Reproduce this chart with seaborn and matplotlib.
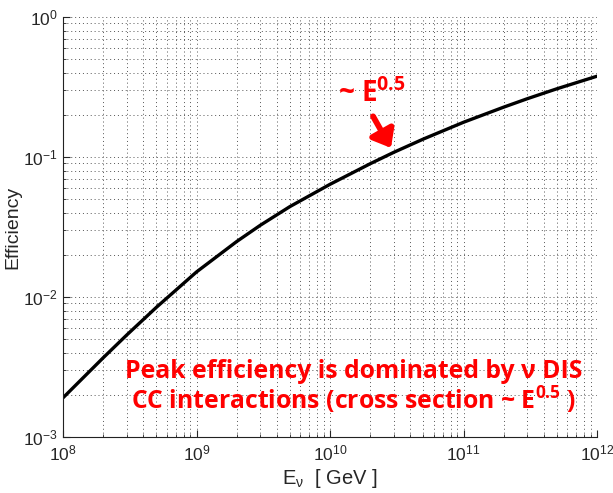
import matplotlib
matplotlib.use("Agg")
import matplotlib.pyplot as plt
import seaborn as sns
import pandas as pd
from matplotlib.ticker import LogLocator, LogFormatterMathtext, NullFormatter

energy_gev = [1e8, 2e8, 3e8, 5e8, 1e9, 2e9, 3e9, 5e9, 1e10, 2e10, 3e10,
              5e10, 1e11, 2e11, 3e11, 5e11, 1e12]
efficiency = [0.001905, 0.00368, 0.00535, 0.00843, 0.0151, 0.0249, 0.0325,
              0.0442, 0.0638, 0.0895, 0.1079, 0.1343, 0.1770, 0.2270, 0.2606,
              0.3069, 0.3776]

sns.set_style("white")
plt.rcParams['font.family'] = ['Liberation Sans', 'DejaVu Sans']
plt.rcParams['mathtext.fontset'] = 'custom'
plt.rcParams['mathtext.rm'] = 'Liberation Sans'
plt.rcParams['mathtext.it'] = 'Liberation Sans:italic'
plt.rcParams['mathtext.bf'] = 'Open Sans:bold'
plt.rcParams['mathtext.default'] = 'regular'

df = pd.DataFrame({"E": energy_gev, "eff": efficiency})

fig = plt.figure(figsize=(6.13, 4.93), dpi=100)
ax = fig.add_axes([0.1028, 0.1136, 0.8712, 0.852])
sns.lineplot(data=df, x="E", y="eff", ax=ax, color="black", linewidth=2.4)
ax.set_xscale("log")
ax.set_yscale("log")
ax.set_xlim(1e8, 1e12)
ax.set_ylim(1e-3, 1e0)

ax.xaxis.set_major_locator(LogLocator(base=10, numticks=10))
ax.yaxis.set_major_locator(LogLocator(base=10, numticks=10))
ax.xaxis.set_minor_locator(LogLocator(base=10, subs=range(2, 10), numticks=20))
ax.yaxis.set_minor_locator(LogLocator(base=10, subs=range(2, 10), numticks=20))
ax.xaxis.set_major_formatter(LogFormatterMathtext())
ax.yaxis.set_major_formatter(LogFormatterMathtext())
ax.xaxis.set_minor_formatter(NullFormatter())
ax.yaxis.set_minor_formatter(NullFormatter())

ax.grid(True, which="both", linestyle=(0, (1, 3)), color="#555555", linewidth=0.7)
for s in ["top", "right"]:
    ax.spines[s].set_visible(False)
for s in ["left", "bottom"]:
    ax.spines[s].set_color("#222222")
    ax.spines[s].set_linewidth(0.8)
ax.tick_params(which="major", direction="in", length=5, width=0.8, labelsize=12.5,
               left=True, bottom=True, pad=4)
ax.tick_params(which="minor", direction="in", length=2.5, width=0.6,
               left=True, bottom=True)
ax.tick_params(axis="x", which="major", pad=5)

ax.set_xlabel(r"E$_\nu$  [ GeV ]", fontsize=14.5, labelpad=2)
ax.set_ylabel("Efficiency", fontsize=14, labelpad=1)

red = "#ff0000"
ax.annotate("", xy=(2.86e10, 0.116), xytext=(2.1e10, 0.195),
            arrowprops=dict(arrowstyle="-|>,head_length=0.5,head_width=0.4",
                            mutation_scale=20, color=red, lw=4.2,
                            shrinkA=0, shrinkB=0))
ax.text(2.06e10, 0.248, r"~ E$^{\mathbf{0.5}}$", color=red, fontsize=20,
        fontweight="bold", ha="center", va="baseline", family=["Open Sans", "DejaVu Sans"])

ax.text(0.545, 0.1405, "Peak efficiency is dominated by ν DIS", transform=ax.transAxes,
        color=red, fontsize=17.8, fontweight="bold", ha="center", va="baseline",
        family=["Open Sans", "DejaVu Sans"])
ax.text(0.545, 0.0643, r"CC interactions (cross section ~ E$^{\mathbf{0.5}}$ )",
        transform=ax.transAxes,
        color=red, fontsize=17.8, fontweight="bold", ha="center", va="baseline",
        family=["Open Sans", "DejaVu Sans"])

fig.savefig("out.png", dpi=100)
